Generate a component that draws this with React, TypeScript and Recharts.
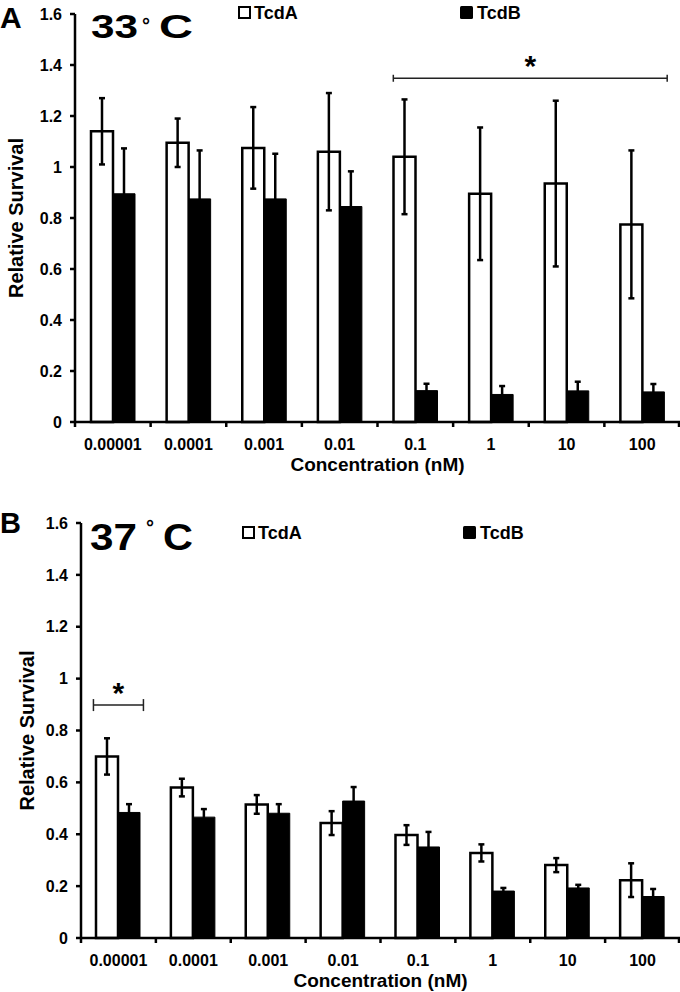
import {
  BarChart,
  Bar,
  XAxis,
  YAxis,
  ErrorBar,
  Label,
  ReferenceLine,
} from "recharts";

const categories = ["0.00001", "0.0001", "0.001", "0.01", "0.1", "1", "10", "100"];
const yTicks = [0, 0.2, 0.4, 0.6, 0.8, 1, 1.2, 1.4, 1.6];

// 33 °C
const tcdA33 = [1.14, 1.095, 1.075, 1.06, 1.04, 0.895, 0.935, 0.775];
const tcdA33Err = [0.13, 0.095, 0.16, 0.23, 0.225, 0.26, 0.325, 0.29];
const tcdB33 = [0.895, 0.875, 0.875, 0.845, 0.123, 0.108, 0.122, 0.118];
const tcdB33Err = [0.178, 0.19, 0.177, 0.138, 0.027, 0.033, 0.036, 0.031];

// 37 °C
const tcdA37 = [0.7, 0.58, 0.515, 0.443, 0.397, 0.328, 0.281, 0.223];
const tcdA37Err = [0.07, 0.034, 0.036, 0.046, 0.038, 0.033, 0.027, 0.065];
const tcdB37 = [0.484, 0.466, 0.481, 0.528, 0.351, 0.181, 0.193, 0.16];
const tcdB37Err = [0.032, 0.031, 0.035, 0.054, 0.058, 0.012, 0.012, 0.029];

// significance brackets (from / to category, height in data units)
const sig33 = { from: "0.1", to: "100", y: 1.348 };
const sig37 = { from: "0.00001", to: "0.00001", y: 0.898 };

const FONT = "'Liberation Sans', Arial, sans-serif";

const build = (a: number[], aErr: number[], b: number[], bErr: number[]) =>
  categories.map((name, i) => ({
    name,
    TcdA: a[i],
    aErr: aErr[i],
    TcdB: b[i],
    bErr: bErr[i],
  }));

const XTick = (props: any) => {
  const { x, y, payload, index, width } = props;
  const bw = (width || 605) / categories.length;
  return (
    <g>
      <line x1={x - bw / 2} x2={x - bw / 2} y1={y} y2={y + 5} stroke="#000" strokeWidth={2.5} />
      {index === categories.length - 1 && (
        <line x1={x + bw / 2 - 1} x2={x + bw / 2 - 1} y1={y} y2={y + 5} stroke="#000" strokeWidth={2.5} />
      )}
      <text x={x} y={y + 28} textAnchor="middle" fontFamily={FONT} fontWeight="bold" fontSize={16} fill="#000">
        {payload.value}
      </text>
    </g>
  );
};

// bracket spanning from the first bar of one group to the last bar of another, with a star above
const bracket = (cap: number, half: [number, number]) => (p: any) => {
  const x1 = Math.min(p.x1, p.x2) - half[0];
  const x2 = Math.max(p.x1, p.x2) + half[1];
  const y = p.y1;
  return (
    <g>
      <line x1={x1} x2={x2} y1={y} y2={y} stroke="#222" strokeWidth={1.5} />
      <line x1={x1} x2={x1} y1={y - cap} y2={y + cap} stroke="#222" strokeWidth={1.5} />
      <line x1={x2} x2={x2} y1={y - cap} y2={y + cap} stroke="#222" strokeWidth={1.5} />
      <text
        x={(x1 + x2) / 2}
        y={y - 2}
        textAnchor="middle"
        fontFamily={FONT}
        fontWeight="bold"
        fontSize={30}
        fill="#000"
      >
        *
      </text>
    </g>
  );
};

const Panel = ({ cfg, data, sig }: any) => {
  const m = cfg.margin;
  return (
    <div style={{ position: "absolute", left: 0, top: cfg.top, width: 680, height: 496 }}>
      <BarChart width={680} height={496} data={data} margin={m} barGap={0} barSize={22}>
        <XAxis
          dataKey="name"
          height={cfg.xAxisHeight}
          tickLine={false}
          tickSize={0}
          tickMargin={0}
          axisLine={{ stroke: "#000", strokeWidth: 2.5 }}
          tick={<XTick />}
          interval={0}
        >
          <Label
            content={({ viewBox }: any) => (
              <text
                x={viewBox.x + viewBox.width / 2}
                y={viewBox.y + 49}
                textAnchor="middle"
                fontFamily={FONT}
                fontWeight="bold"
                fontSize={19}
                fill="#000"
              >
                Concentration (nM)
              </text>
            )}
          />
        </XAxis>
        <YAxis
          width={45}
          domain={[0, 1.6]}
          ticks={yTicks}
          interval={0}
          tickSize={5}
          tickMargin={8}
          tickLine={{ stroke: "#000", strokeWidth: 2.5 }}
          axisLine={{ stroke: "#000", strokeWidth: 2.5 }}
          tick={{ fontFamily: FONT, fontWeight: "bold", fontSize: 16, fill: "#000" }}
          tickFormatter={(v: number) => String(v)}
        >
          <Label
            content={({ viewBox }: any) => {
              const cy = viewBox.y + viewBox.height / 2;
              return (
                <text
                  x={cfg.yLabelX}
                  y={cy}
                  transform={`rotate(-90 ${cfg.yLabelX} ${cy})`}
                  textAnchor="middle"
                  dominantBaseline="central"
                  fontFamily={FONT}
                  fontWeight="bold"
                  fontSize={20}
                  fill="#000"
                >
                  Relative Survival
                </text>
              );
            }}
          />
        </YAxis>
        <Bar dataKey="TcdA" fill="#fff" stroke="#000" strokeWidth={2.5} isAnimationActive={false}>
          <ErrorBar dataKey="aErr" width={3} stroke="#000" strokeWidth={2.5} direction="y" />
        </Bar>
        <Bar dataKey="TcdB" fill="#000" stroke="#000" strokeWidth={1} isAnimationActive={false}>
          <ErrorBar dataKey="bErr" width={3} stroke="#000" strokeWidth={2.5} direction="y" />
        </Bar>
        <ReferenceLine
          ifOverflow="visible"
          segment={[
            { x: sig.from, y: sig.y },
            { x: sig.to, y: sig.y },
          ]}
          shape={bracket(cfg.sigCap, cfg.sigHalf)}
        />
      </BarChart>
      <svg
        width={680}
        height={496}
        style={{ position: "absolute", left: 0, top: 0, pointerEvents: "none" }}
        fontFamily={FONT}
        fontWeight="bold"
        fill="#000"
      >
        <text x={0} y={cfg.letter.y} fontSize={cfg.letter.size}>
          {cfg.letter.text}
        </text>
        <text x={cfg.title.x} y={cfg.title.y} fontSize={cfg.title.size} textLength={47} lengthAdjust="spacingAndGlyphs">
          {cfg.title.text}
        </text>
        <text x={cfg.title.degX} y={cfg.title.degY} fontSize={20}>
          °
        </text>
        <text
          x={cfg.title.cX}
          y={cfg.title.y}
          fontSize={cfg.title.size}
          textLength={cfg.title.cLen}
          lengthAdjust="spacingAndGlyphs"
        >
          C
        </text>
        <rect x={cfg.legend.ax} y={cfg.legend.cy - 5} width={11} height={11} fill="#fff" stroke="#000" strokeWidth={2} />
        <text x={cfg.legend.ax + 15} y={cfg.legend.cy + 6.5} fontSize={18}>
          TcdA
        </text>
        <rect x={cfg.legend.bx} y={cfg.legend.cy - 6} width={13} height={13} rx={1.5} fill="#000" />
        <text x={cfg.legend.bx + 17} y={cfg.legend.cy + 6.5} fontSize={18}>
          TcdB
        </text>
      </svg>
    </div>
  );
};

const cfgA = {
  top: 0,
  margin: { top: 14, right: 0, left: 30, bottom: 14 },
  xAxisHeight: 60,
  yLabelX: 16,
  sigCap: 3.5,
  sigHalf: [22, 25] as [number, number],
  letter: { text: "A", y: 28, size: 30 },
  title: { text: "33", x: 91, y: 38, size: 34, degX: 142, degY: 32, cX: 159, cLen: 34 },
  legend: { ax: 239, bx: 460, cy: 12 },
};

const cfgB = {
  top: 496,
  margin: { top: 27, right: 0, left: 36, bottom: 4 },
  xAxisHeight: 50,
  yLabelX: 27,
  sigCap: 6,
  sigHalf: [25, 25] as [number, number],
  letter: { text: "B", y: 37, size: 29 },
  title: { text: "37", x: 90, y: 54, size: 37, degX: 146, degY: 38, cX: 163, cLen: 30 },
  legend: { ax: 243, bx: 463, cy: 36 },
};

export default function App() {
  return (
    <div style={{ position: "absolute", left: 0, top: 0, width: 680, height: 992, background: "#fff" }}>
      <Panel cfg={cfgA} data={build(tcdA33, tcdA33Err, tcdB33, tcdB33Err)} sig={sig33} />
      <Panel cfg={cfgB} data={build(tcdA37, tcdA37Err, tcdB37, tcdB37Err)} sig={sig37} />
    </div>
  );
}
